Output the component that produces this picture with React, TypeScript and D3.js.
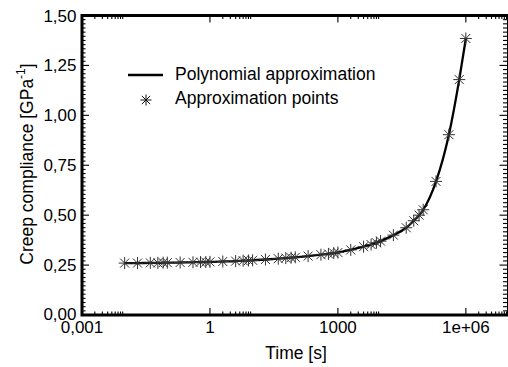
import React from "react";
import * as d3 from "d3";

const times = [
  0.01, 0.02, 0.04, 0.06, 0.08, 0.1, 0.2, 0.4, 0.6, 0.8, 1, 2, 4, 6, 8, 10, 20, 40, 60, 80, 100,
  200, 400, 600, 800, 1000, 2000, 4000, 6000, 8000, 10000, 20000, 40000, 60000, 80000, 100000,
  200000, 400000, 700000, 1000000,
];
const compliance = [
  0.26, 0.26, 0.261, 0.261, 0.262, 0.262, 0.263, 0.264, 0.265, 0.265, 0.266, 0.268, 0.27, 0.272,
  0.273, 0.274, 0.278, 0.282, 0.285, 0.287, 0.289, 0.295, 0.302, 0.306, 0.31, 0.313, 0.326, 0.342,
  0.353, 0.362, 0.37, 0.4, 0.437, 0.472, 0.5, 0.527, 0.669, 0.903, 1.179, 1.385,
];
const xMajorTicks = [0.001, 1, 1000, 1e6];
const xTickLabels = ["0,001", "1", "1000", "1e+06"];
const yMajorTicks = [0, 0.25, 0.5, 0.75, 1.0, 1.25, 1.5];
const yTickLabels = ["0,00", "0,25", "0,50", "0,75", "1,00", "1,25", "1,50"];
const legendLabels = ["Polynomial approximation", "Approximation points"];

const W = 508;
const H = 367;
const L = 82;
const R = 508.5;
const T = 15.5;
const B = 315;
const FONT = "'Liberation Sans', Arial, Helvetica, sans-serif";

function Star({ x, y, s = 6, stroke = "#333" }: { x: number; y: number; s?: number; stroke?: string }) {
  const d = s * 0.75;
  return (
    <g stroke={stroke} strokeWidth={1}>
      <line x1={x - s} y1={y} x2={x + s} y2={y} />
      <line x1={x} y1={y - s} x2={x} y2={y + s} />
      <line x1={x - d} y1={y - d} x2={x + d} y2={y + d} />
      <line x1={x - d} y1={y + d} x2={x + d} y2={y - d} />
    </g>
  );
}

export default function App() {
  const x = d3.scaleLog().domain([0.001, 1e7]).range([L, R]);
  const y = d3.scaleLinear().domain([0, 1.5]).range([B, T]);
  const pts = times.map((t, i) => [t, compliance[i]] as [number, number]);
  const line = d3
    .line<[number, number]>()
    .x((d) => x(d[0]))
    .y((d) => y(d[1]))
    .curve(d3.curveMonotoneX);

  const xMinor: number[] = [];
  xMajorTicks.forEach((m) => {
    for (let k = 2; k <= 9; k++) xMinor.push(m * k);
  });
  const yMinor: number[] = [];
  for (let i = 0; i < 6; i++) {
    for (let k = 1; k < 12; k++) yMinor.push(0.25 * i + (0.25 * k) / 12);
  }
  const MAJ = 7;
  const MIN = 3.5;

  return (
    <svg
      width={W}
      height={H}
      style={{ position: "absolute", left: 0, top: 0, background: "#fff" }}
      fontFamily={FONT}
    >
      <rect x={0} y={0} width={W} height={H} fill="#fff" />
      {/* ticks */}
      <g stroke="#000" strokeWidth={1.1}>
        {xMajorTicks.map((t, i) => (
          <g key={"xm" + i}>
            <line x1={x(t)} x2={x(t)} y1={B} y2={B - MAJ} />
            <line x1={x(t)} x2={x(t)} y1={T} y2={T + MAJ} />
          </g>
        ))}
        {xMinor.map((t, i) => (
          <g key={"xn" + i}>
            <line x1={x(t)} x2={x(t)} y1={B} y2={B - MIN} />
            <line x1={x(t)} x2={x(t)} y1={T} y2={T + MIN} />
          </g>
        ))}
        {yMajorTicks.map((v, i) => (
          <g key={"ym" + i}>
            <line x1={L} x2={L + MAJ} y1={y(v)} y2={y(v)} />
            <line x1={R} x2={R - MAJ - 2} y1={y(v)} y2={y(v)} />
          </g>
        ))}
        {yMinor.map((v, i) => (
          <g key={"yn" + i}>
            <line x1={L} x2={L + MIN} y1={y(v)} y2={y(v)} />
            <line x1={R} x2={R - MIN - 2} y1={y(v)} y2={y(v)} />
          </g>
        ))}
      </g>
      {/* frame */}
      <rect x={L} y={T} width={R - L} height={B - T} fill="none" stroke="#000" strokeWidth={3} />

      {/* tick labels */}
      <g fontSize={17} fill="#000">
        {yMajorTicks.map((v, i) => (
          <text key={"yl" + i} x={76.5} y={y(v) + (i === 0 ? 4.5 : 6)} textAnchor="end">
            {yTickLabels[i]}
          </text>
        ))}
        {xMajorTicks.map((t, i) => (
          <text key={"xl" + i} x={x(t)} y={333} textAnchor="middle">
            {xTickLabels[i]}
          </text>
        ))}
      </g>

      {/* axis titles */}
      <text x={296} y={359} fontSize={17.5} textAnchor="middle">
        Time [s]
      </text>
      <text transform="translate(33,164) rotate(-90)" fontSize={17.5} textAnchor="middle">
        Creep compliance [GPa
        <tspan fontSize={12} dy={-8}>-1</tspan>
        <tspan dy={8}>]</tspan>
      </text>

      {/* data */}
      <path d={line(pts) || ""} fill="none" stroke="#000" strokeWidth={2.3} />
      {pts.map((p, i) => (
        <Star key={"s" + i} x={x(p[0])} y={y(p[1])} />
      ))}

      {/* legend */}
      <line x1={128} x2={163} y1={75} y2={75} stroke="#000" strokeWidth={2.3} />
      <text x={175} y={79.5} fontSize={17.5}>
        {legendLabels[0]}
      </text>
      <Star x={146} y={100} s={5.5} stroke="#111" />
      <text x={175} y={104} fontSize={17.5}>
        {legendLabels[1]}
      </text>
    </svg>
  );
}
